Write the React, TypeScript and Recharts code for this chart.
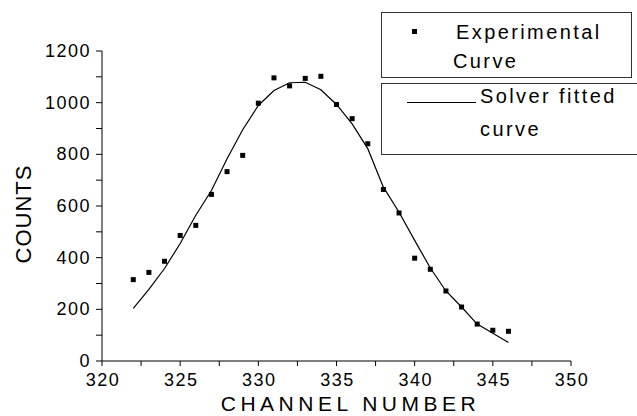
import React from 'react';
import {
  ComposedChart,
  Line,
  Scatter,
  XAxis,
  YAxis
} from 'recharts';

const channels = [322, 323, 324, 325, 326, 327, 328, 329, 330, 331, 332, 333, 334, 335, 336, 337, 338, 339, 340, 341, 342, 343, 344, 345, 346];
const experimental = [315, 343, 386, 486, 525, 645, 733, 796, 998, 1096, 1065, 1094, 1102, 993, 938, 841, 664, 573, 398, 355, 271, 209, 143, 119, 115];
const fitted = [204, 277, 358, 455, 564, 660, 783, 895, 989, 1047, 1077, 1079, 1050, 993, 918, 822, 673, 576, 467, 360, 271, 209, 143, 107, 72];

const xTicks = [320, 322.5, 325, 327.5, 330, 332.5, 335, 337.5, 340, 342.5, 345, 347.5, 350];
const yTicks = [0, 100, 200, 300, 400, 500, 600, 700, 800, 900, 1000, 1100, 1200];

const FONT = '"Liberation Sans", Arial, sans-serif';

const data = channels.map((ch, i) => ({ channel: ch, exp: experimental[i], fit: fitted[i] }));

const XTick = ({ x, y, payload }: any) => {
  if (payload.value % 5 !== 0) return null;
  return (
    <text x={x + 1} y={y} dy="0.71em" textAnchor="middle" fontFamily={FONT} fontSize={18} letterSpacing={1.5} fill="#000">
      {payload.value}
    </text>
  );
};

const YTick = ({ x, y, payload }: any) => {
  if (payload.value % 200 !== 0) return null;
  return (
    <text x={x + 2} y={y} dominantBaseline="central" textAnchor="end" fontFamily={FONT} fontSize={18} letterSpacing={1.5} fill="#000">
      {payload.value}
    </text>
  );
};

const SquareDot = ({ cx, cy }: any) => (
  <rect x={cx - 2.5} y={cy - 2.5} width={5} height={5} fill="#000" />
);

const XLabel = ({ viewBox }: any) => (
  <text x={viewBox.x + viewBox.width / 2 + 14} y={411} textAnchor="middle" fontFamily={FONT} fontSize={21} letterSpacing={4.5} fill="#000">
    CHANNEL NUMBER
  </text>
);

const YLabel = () => (
  <text x={23} y={214} transform="rotate(-90 23 214)" textAnchor="middle" dominantBaseline="central" fontFamily={FONT} fontSize={22} letterSpacing={1} fill="#000">
    COUNTS
  </text>
);

const legendText: React.CSSProperties = {
  position: 'absolute',
  fontFamily: FONT,
  fontSize: 20,
  letterSpacing: 2.4,
  color: '#000',
  lineHeight: '20px',
  whiteSpace: 'nowrap'
};

export default function App() {
  return (
    <div style={{ position: 'absolute', left: 0, top: 0, width: 637, height: 416, background: '#fff', overflow: 'hidden' }}>
      <ComposedChart width={637} height={416} data={data} margin={{ top: 51, right: 66, bottom: 0, left: 0 }}>
        <XAxis
          dataKey="channel"
          type="number"
          domain={[320, 350]}
          ticks={xTicks}
          interval={0}
          tick={<XTick />}
          tickSize={5}
          tickMargin={7}
          height={55}
          stroke="#000"
          tickLine={{ stroke: '#000' }}
          label={<XLabel />}
        />
        <YAxis
          type="number"
          domain={[0, 1200]}
          ticks={yTicks}
          interval={0}
          tick={<YTick />}
          tickSize={6}
          tickMargin={7}
          width={102}
          stroke="#000"
          tickLine={{ stroke: '#000' }}
          label={<YLabel />}
        />
        <Line
          dataKey="fit"
          type="linear"
          stroke="#000"
          strokeWidth={1.2}
          dot={false}
          activeDot={false}
          isAnimationActive={false}
        />
        <Scatter dataKey="exp" fill="#000" shape={<SquareDot />} isAnimationActive={false} />
      </ComposedChart>

      <div style={{ position: 'absolute', left: 381, top: 12, width: 249, height: 64, border: '1px solid #333' }} />
      <div style={{ position: 'absolute', left: 412, top: 29, width: 5, height: 5, background: '#000' }} />
      <div style={{ ...legendText, left: 456, top: 22 }}>Experimental</div>
      <div style={{ ...legendText, left: 453, top: 51 }}>Curve</div>

      <div style={{ position: 'absolute', left: 381, top: 83, width: 260, height: 70, border: '1px solid #333' }} />
      <div style={{ position: 'absolute', left: 407, top: 102, width: 69, height: 1, background: '#000' }} />
      <div style={{ ...legendText, left: 480, top: 86 }}>Solver fitted</div>
      <div style={{ ...legendText, left: 480, top: 119 }}>curve</div>
    </div>
  );
}
